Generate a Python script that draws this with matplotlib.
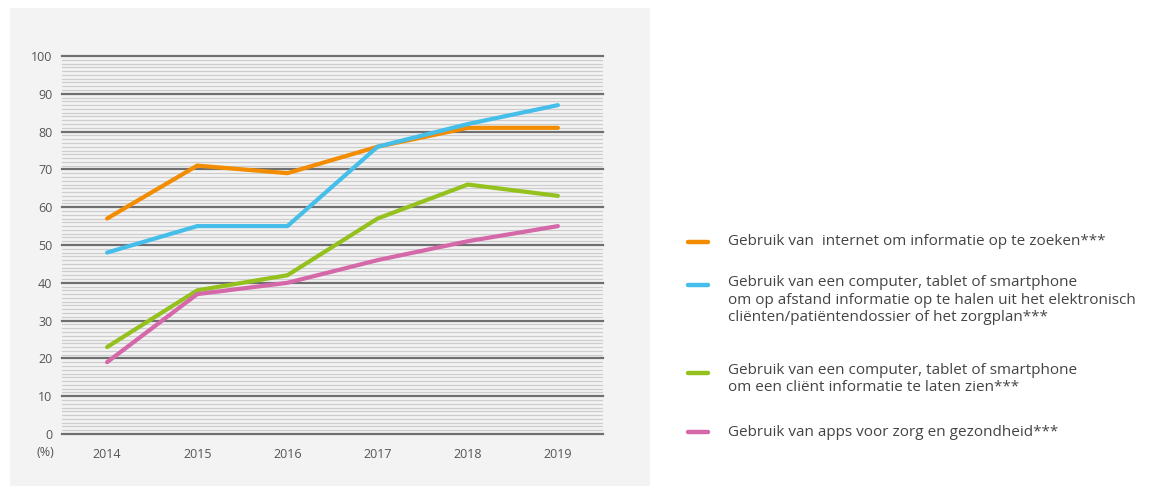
import matplotlib
matplotlib.use("Agg")
import matplotlib.pyplot as plt
from matplotlib.lines import Line2D
from matplotlib.patches import Rectangle

years = ["2014", "2015", "2016", "2017", "2018", "2019"]
internet = [57, 71, 69, 76, 81, 81]
dossier = [48, 55, 55, 76, 82, 87]
client_info = [23, 38, 42, 57, 66, 63]
apps = [19, 37, 40, 46, 51, 55]

labels = [
    "Gebruik van  internet om informatie op te zoeken***",
    "Gebruik van een computer, tablet of smartphone\nom op afstand informatie op te halen uit het elektronisch\ncliënten/patiëntendossier of het zorgplan***",
    "Gebruik van een computer, tablet of smartphone\nom een cliënt informatie te laten zien***",
    "Gebruik van apps voor zorg en gezondheid***",
]
colors = ["#F28C00", "#45BFEA", "#95C11F", "#D468A8"]
series = [internet, dossier, client_info, apps]

plt.rcParams["font.family"] = ["Open Sans", "DejaVu Sans"]

W, H = 1157, 487
fig = plt.figure(figsize=(W / 100, H / 100), dpi=100)
fig.patch.set_facecolor("white")

# light panel behind the chart
panel = Rectangle((10 / W, 1 - 486 / H), 640 / W, 478 / H,
                  transform=fig.transFigure, facecolor="#f3f3f3",
                  edgecolor="none", zorder=-10)
fig.patches.append(panel)

ax = fig.add_axes([62 / W, 1 - 434 / H, (603 - 62) / W, (434 - 56) / H])
ax.set_zorder(5)
ax.patch.set_alpha(0)

x = list(range(len(years)))
ax.set_xlim(-0.5, len(years) - 0.5)
ax.set_ylim(0, 100)

# fine grid every unit, heavier every ten
for v in range(0, 101):
    if v % 10 == 0:
        ax.axhline(v, color="#6f6f6f", lw=1.6, zorder=1, clip_on=False)
    else:
        ax.axhline(v, color="#cdcdcd", lw=0.9, zorder=1)

for vals, c in zip(series, colors):
    ax.plot(x, vals, color=c, lw=3.0, solid_capstyle="round",
            solid_joinstyle="miter", zorder=3)

ax.set_xticks(x)
ax.set_xticklabels(years)
ax.set_yticks(range(0, 101, 10))
ax.tick_params(length=0, labelsize=9, colors="#555555")
ax.tick_params(axis="y", pad=7)
ax.tick_params(axis="x", pad=10)
for s in ax.spines.values():
    s.set_visible(False)

fig.text(45 / W, 1 - 452 / H, "(%)", ha="center", va="center",
         fontsize=9, color="#555555")

# legend
rows = [(242, 242), (285, 300), (373, 379), (432, 432)]
for (hy, ty), lab, c in zip(rows, labels, colors):
    fig.add_artist(Line2D([688 / W, 708 / W], [1 - hy / H, 1 - hy / H],
                          transform=fig.transFigure, color=c, lw=3.2,
                          solid_capstyle="round"))
    fig.text(728 / W, 1 - ty / H, lab, ha="left", va="center",
             fontsize=11, color="#444444", linespacing=1.2)

fig.savefig("out.png", dpi=100, facecolor=fig.get_facecolor())
